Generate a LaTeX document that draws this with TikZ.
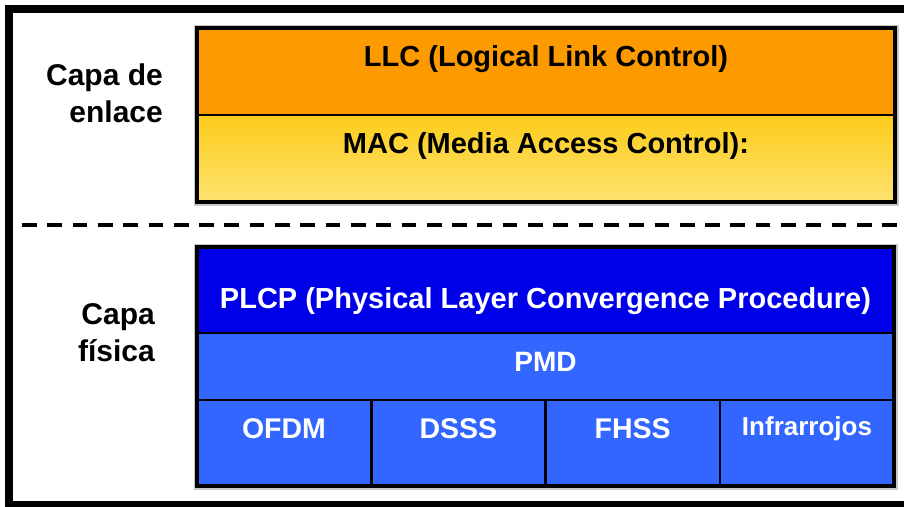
\documentclass[tikz,border=0pt]{standalone}
\usepackage{fontspec}
\setmainfont{Liberation Sans}
\definecolor{llcorange}{RGB}{252,154,0}
\definecolor{macTop}{RGB}{253,204,26}
\definecolor{macBot}{RGB}{253,226,112}
\definecolor{plcpblue}{RGB}{0,0,232}
\definecolor{pmdblue}{RGB}{51,102,255}
\begin{document}
\begin{tikzpicture}[x=1pt,y=-1pt,
  layerbox/.style={inner sep=0pt, outer sep=0pt, anchor=north west},
  innerline/.style={draw=black, line width=2.5pt},
  frameline/.style={draw=black, line width=4pt},
  haloline/.style={draw=black!22, line width=7pt},
  boxtext/.style={font=\fontsize{29}{35}\selectfont\bfseries, anchor=base, inner sep=0pt},
  layertext/.style={font=\fontsize{30}{37}\selectfont\bfseries, align=right, anchor=base east, inner sep=0pt},
]
\useasboundingbox (0,0) rectangle (904,506);
\fill[white] (0,0) rectangle (904,506);

% outer frame, open on the right
\draw[line width=8pt, miter limit=10] (915,9) -- (8.5,9) -- (8.5,505) -- (915,505);

% ---------- data link layer ----------
\node[layerbox, haloline, minimum width=698pt, minimum height=174pt] (enlaceHalo) at (197,28) {};
\node[layerbox, fill=llcorange, minimum width=698pt, minimum height=87pt] (llc) at (197,28) {};
\node[layerbox, top color=macTop, bottom color=macBot, minimum width=698pt, minimum height=87pt] (mac) at (197,115) {};
\draw[black, line width=1.5pt] (llc.south west) -- (llc.south east);
\node[layerbox, frameline, minimum width=698pt, minimum height=174pt] (enlace) at (197,28) {};
\node[boxtext] (llcT) at (546,66) {LLC (Logical Link Control)};
\node[boxtext] (macT) at (546,153) {MAC (Media Access Control):};

% the base anchor sits on the last line of the label
\node[layertext] (capaEnlace) at (163,122) {Capa de\\enlace};

% separator between the two layers
\draw[line width=4pt, dash pattern=on 14.7pt off 10.6pt] (22,225) -- (915,225);

% ---------- physical layer ----------
\node[layerbox, haloline, minimum width=697pt, minimum height=239pt] (fisicaHalo) at (197,247) {};
\node[layerbox, fill=plcpblue, minimum width=697pt, minimum height=86pt] (plcp) at (197,247) {};
\node[layerbox, fill=pmdblue, minimum width=697pt, minimum height=67pt] (pmd) at (197,333) {};
\node[layerbox, fill=pmdblue, minimum width=174.25pt, minimum height=86pt] (ofdm) at (197,400) {};
\node[layerbox, fill=pmdblue, minimum width=174.25pt, minimum height=86pt] (dsss) at (371.25,400) {};
\node[layerbox, fill=pmdblue, minimum width=174.25pt, minimum height=86pt] (fhss) at (545.5,400) {};
\node[layerbox, fill=pmdblue, minimum width=174.25pt, minimum height=86pt] (infra) at (719.75,400) {};
\draw[innerline] (plcp.south west) -- (plcp.south east);
\draw[innerline] (pmd.south west) -- (pmd.south east);
\draw[innerline] (ofdm.north east) -- (ofdm.south east);
\draw[innerline] (dsss.north east) -- (dsss.south east);
\draw[innerline] (fhss.north east) -- (fhss.south east);
\node[layerbox, frameline, minimum width=697pt, minimum height=239pt] (fisica) at (197,247) {};

\node[boxtext, white] (plcpT) at (545.5,308) {PLCP (Physical Layer Convergence Procedure)};
\node[boxtext, white, font=\fontsize{28}{34}\selectfont\bfseries] (pmdT) at (545.5,371) {PMD};
\node[boxtext, white, font=\fontsize{28.5}{34}\selectfont\bfseries] (ofdmT) at (284,438) {OFDM};
\node[boxtext, white, font=\fontsize{28.5}{34}\selectfont\bfseries] (dsssT) at (458.4,438) {DSSS};
\node[boxtext, white, font=\fontsize{28.5}{34}\selectfont\bfseries] (fhssT) at (632.6,438) {FHSS};
\node[boxtext, white, font=\fontsize{26}{32}\selectfont\bfseries] (infraT) at (807,435) {Infrarrojos};

\node[layertext] (capaFisica) at (155,361) {Capa\\física};
\end{tikzpicture}
\end{document}
